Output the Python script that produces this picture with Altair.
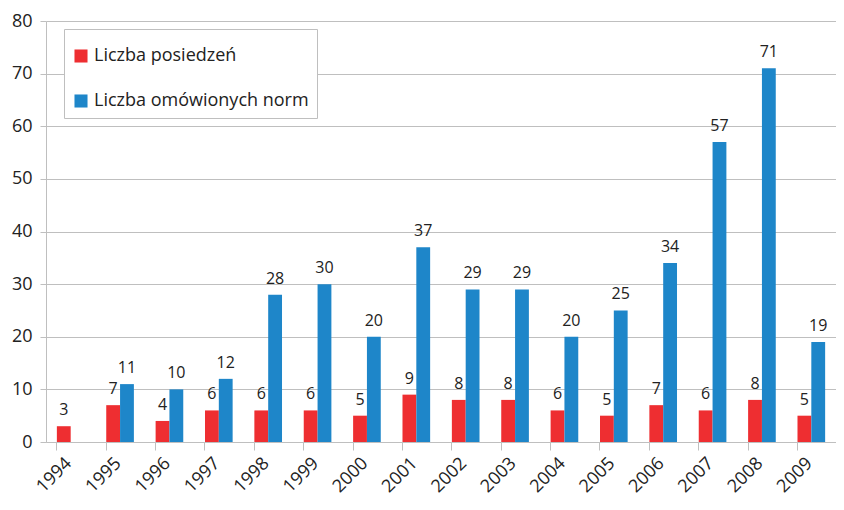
import altair as alt
import pandas as pd

years = [str(y) for y in range(1994, 2010)]
posiedzen = [3, 7, 4, 6, 6, 6, 5, 9, 8, 8, 6, 5, 7, 6, 8, 5]
normy = [None, 11, 10, 12, 28, 30, 20, 37, 29, 29, 20, 25, 34, 57, 71, 19]
series = ["Liczba posiedzeń", "Liczba omówionych norm"]
colors = ["#EE2E31", "#1E86C9"]

rows = []
for y, a, b in zip(years, posiedzen, normy):
    rows.append({"rok": y, "seria": series[0], "wartosc": a})
    if b is not None:
        rows.append({"rok": y, "seria": series[1], "wartosc": b})
df = pd.DataFrame(rows)

FONT = "Open Sans"

x = alt.X("rok:N", sort=years, title=None,
          scale=alt.Scale(paddingInner=0.44, paddingOuter=0.22),
          axis=alt.Axis(labelAngle=-45, labelFontSize=18, labelFont=FONT,
                        labelColor="#222", bandPosition=0, labelOffset=-8,
                        tickColor="#BFBFBF", tickSize=8, domainColor="#BFBFBF",
                        labelPadding=4, grid=False))
xo = alt.XOffset("seria:N", sort=series)
y = alt.Y("wartosc:Q", title=None,
          scale=alt.Scale(domain=[0, 80]),
          axis=alt.Axis(values=list(range(0, 81, 10)), labelFontSize=18,
                        labelFont=FONT, labelColor="#222", tickColor="#BFBFBF",
                        tickSize=6, domainColor="#BFBFBF", gridColor="#BFBFBF",
                        labelPadding=8))

bars = alt.Chart(df).mark_bar().encode(
    x=x, xOffset=xo, y=y,
    color=alt.Color("seria:N", sort=series,
                    scale=alt.Scale(domain=series, range=colors),
                    legend=alt.Legend(title=" ", titleFontSize=10, titlePadding=0,
                                      orient="none", legendX=18, legendY=8,
                                      symbolType="square", symbolSize=170,
                                      symbolStrokeWidth=0, labelLimit=0,
                                      labelFontSize=18, labelFont=FONT, labelColor="#222",
                                      rowPadding=27, padding=8, strokeColor="#BFBFBF",
                                      fillColor="white", labelOffset=4)),
)

labels = alt.Chart(df).mark_text(baseline="bottom", dy=-8, fontSize=16,
                                 font=FONT, color="#222").encode(
    x=x, xOffset=xo, y=y, text="wartosc:Q")

chart = (bars + labels).properties(
    width=790, height=421,
    autosize=alt.AutoSizeParams(type="none"),
    padding={"left": 38, "top": 13, "right": 0, "bottom": 60},
).configure_view(stroke=None)

chart.save("out.html", embed_options={"renderer": "svg", "actions": False})
